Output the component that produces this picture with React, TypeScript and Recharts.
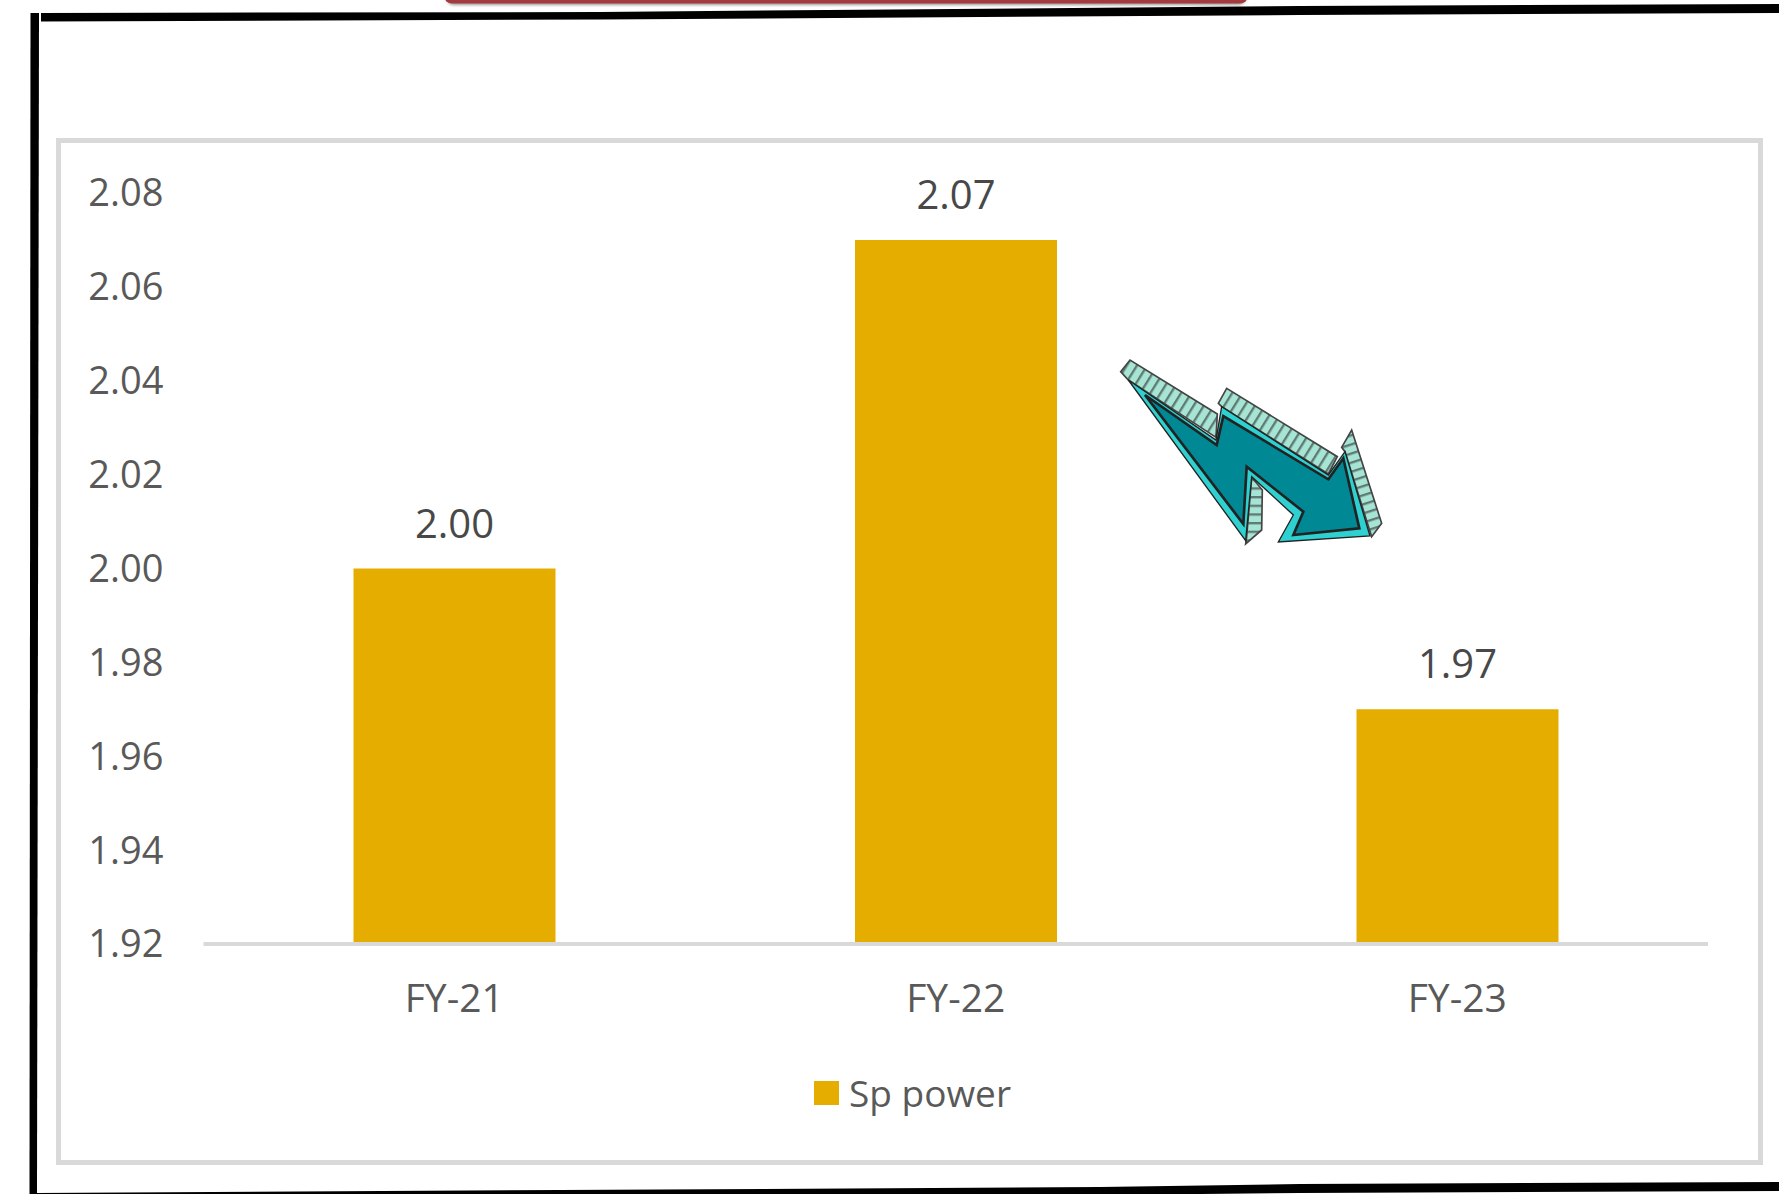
import { BarChart, Bar, XAxis, YAxis, Legend, LabelList } from 'recharts';

const years = ['FY-21', 'FY-22', 'FY-23'];
const spPower = [2.0, 2.07, 1.97];
const yTicks = [1.92, 1.94, 1.96, 1.98, 2.0, 2.02, 2.04, 2.06, 2.08];

const chartData = years.map((year, i) => ({ year, spPower: spPower[i] }));

const FONT = '"Open Sans", sans-serif';
const GOLD = '#e5ad00';

// slightly skewed screenshot border, the card and the clipped shape above it
function Frame() {
  return (
    <svg width={1779} height={1194} style={{ position: 'absolute', left: 0, top: 0 }}>
      <defs>
        <filter id="soft" x="-5%" y="-100%" width="110%" height="300%">
          <feGaussianBlur stdDeviation="1.5" />
        </filter>
      </defs>
      <rect x={446} y={-20} width={800} height={25} rx={8} fill="#999" filter="url(#soft)" />
      <rect x={444} y={-20} width={804} height={23.5} rx={8} fill="#a23a3e" />
      <polygon points="41,13 41,21.5 600,19.5 1300,15 1779,13 1779,4 1300,6 600,12" fill="#000" />
      <polygon points="30.5,13 39,13 37,1194 29.5,1194" fill="#000" />
      <polygon points="37,1193 1100,1187 1300,1184 1779,1182 1779,1191 1300,1193 1200,1194 37,1194" fill="#000" />
      <rect x={58.5} y={140.5} width={1702} height={1022} fill="#fff" stroke="#d9d9d9" strokeWidth={5} />
    </svg>
  );
}

// hand-drawn arrow sticker, coordinates are in 3x crop pixels
function Arrow() {
  const bands = [
    { id: 'h1', angle: 32, points: '122,95 150,60 412,222 408,292 145,120' },
    { id: 'h2', angle: 32, points: '415,190 440,145 772,350 745,402 425,200' },
    { id: 'h3', angle: 72, points: '785,322 815,270 905,550 875,590 795,335' },
    { id: 'h4', angle: 90, points: '515,412 547,450 545,570 497,612 500,590' },
  ];
  return (
    <svg
      width={320}
      height={230}
      viewBox="0 0 960 690"
      style={{ position: 'absolute', left: 1080, top: 340 }}
    >
      <defs>
        <filter id="rough" x="-5%" y="-5%" width="110%" height="110%">
          <feGaussianBlur stdDeviation="1.6" />
        </filter>
        {bands.map((b) => (
          <pattern
            key={b.id}
            id={b.id}
            width={26}
            height={26}
            patternUnits="userSpaceOnUse"
            patternTransform={`rotate(${b.angle})`}
          >
            <rect width={26} height={26} fill="#a6e4d4" />
            <rect width={7} height={26} fill="#5f7a75" />
          </pattern>
        ))}
      </defs>
      <g filter="url(#rough)">
        {bands.map((b) => (
          <polygon key={b.id} points={b.points} fill={`url(#${b.id})`} stroke="#444" strokeWidth={5} />
        ))}
        <polygon
          points="145,120 408,300 425,200 745,405 795,335 870,588 595,606 640,525 515,410 497,602"
          fill="#2fd0d0"
          stroke="#222"
          strokeWidth={4}
        />
        <polygon
          points="195,165 410,315 430,228 745,418 790,355 838,565 640,585 670,515 500,380 490,552"
          fill="#028894"
          stroke="#222"
          strokeWidth={8}
        />
      </g>
    </svg>
  );
}

function LegendRow({ payload }: { payload?: Array<{ value: string; color: string }> }) {
  return (
    <div style={{ height: 49 }}>
      {(payload ?? []).map((item) => (
        <div key={item.value} style={{ display: 'flex', alignItems: 'center', height: 49 }}>
          <span style={{ width: 25, height: 24, background: item.color, marginRight: 10 }} />
          <span style={{ fontFamily: FONT, fontSize: 37, color: '#595959', whiteSpace: 'nowrap' }}>
            {item.value}
          </span>
        </div>
      ))}
    </div>
  );
}

export default function App() {
  return (
    <div style={{ position: 'absolute', left: 0, top: 0, width: 1779, height: 1194, background: '#fff', overflow: 'hidden' }}>
      <Frame />
      <div style={{ position: 'absolute', left: 0, top: 0 }}>
        <BarChart
          width={1779}
          height={1194}
          data={chartData}
          margin={{ top: 193, right: 71, bottom: 141, left: 0 }}
        >
          <XAxis
            dataKey="year"
            height={60}
            stroke="#d9d9d9"
            strokeWidth={4}
            tickLine={false}
            tickMargin={34}
            tick={{ fontFamily: FONT, fontSize: 39, fill: '#595959' }}
          />
          <YAxis
            width={203.5}
            domain={[1.92, 2.08]}
            ticks={yTicks}
            interval={0}
            axisLine={false}
            tickLine={false}
            tickMargin={34}
            tickFormatter={(v: number) => v.toFixed(2)}
            tick={{ fontFamily: FONT, fontSize: 38, fill: '#595959' }}
          />
          <Legend
            verticalAlign="bottom"
            content={(props: any) => <LegendRow payload={props.payload} />}
            wrapperStyle={{ left: 814, width: 300, top: 1068, bottom: 'auto' }}
          />
          <Bar dataKey="spPower" name="Sp power" fill={GOLD} barSize={202} isAnimationActive={false}>
            <LabelList
              dataKey="spPower"
              position="top"
              offset={31}
              formatter={(v: number) => v.toFixed(2)}
              style={{ fontFamily: FONT, fontSize: 40, fill: '#484848' }}
            />
          </Bar>
        </BarChart>
      </div>
      <Arrow />
    </div>
  );
}
